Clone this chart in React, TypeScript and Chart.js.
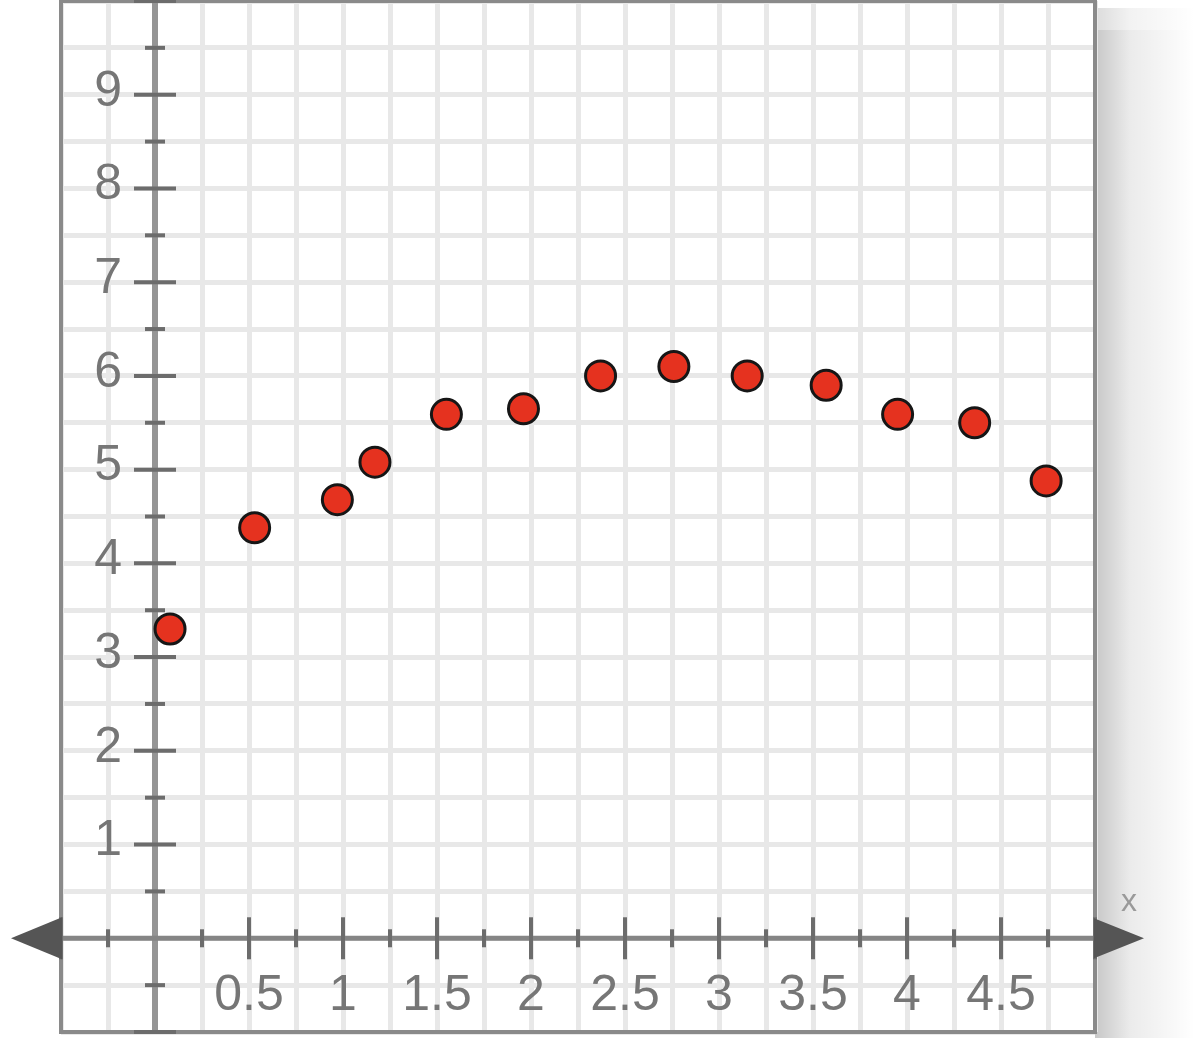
import React, { useEffect, useRef } from "react";
import { Chart, registerables } from "chart.js";

Chart.register(...registerables);

// Data
const xValues = [0.08, 0.53, 0.97, 1.17, 1.55, 1.96, 2.37, 2.76, 3.15, 3.57, 3.95, 4.36, 4.74];
const yValues = [3.3, 4.38, 4.68, 5.08, 5.59, 5.65, 6.0, 6.1, 6.0, 5.9, 5.59, 5.5, 4.88];

const xTickValues = [0.5, 1, 1.5, 2, 2.5, 3, 3.5, 4, 4.5];
const xTickLabels = ["0.5", "1", "1.5", "2", "2.5", "3", "3.5", "4", "4.5"];
const yTickValues = [1, 2, 3, 4, 5, 6, 7, 8, 9];
const yTickLabels = ["1", "2", "3", "4", "5", "6", "7", "8", "9"];

const X_MIN = -0.5;
const X_MAX = 5;
const Y_MIN = -1;
const Y_MAX = 10;

const FONT = '"Liberation Sans", Arial, sans-serif';
const GRID = "#e8e8e8";

const isMultiple = (v: number, step: number) => Math.abs(v / step - Math.round(v / step)) < 1e-6;

const decorPlugin = {
  id: "decor",
  beforeDraw(chart: any) {
    const { ctx, chartArea, height } = chart;
    ctx.save();
    ctx.fillStyle = "#ffffff";
    ctx.fillRect(0, 0, chart.width, height);
    // shadow to the right of the box
    const g = ctx.createLinearGradient(chartArea.right, 0, chartArea.right + 100, 0);
    g.addColorStop(0, "rgba(0,0,0,0.22)");
    g.addColorStop(0.35, "rgba(0,0,0,0.08)");
    g.addColorStop(1, "rgba(0,0,0,0)");
    ctx.fillStyle = g;
    ctx.fillRect(chartArea.right, 30, 110, height - 30);
    const gTop = ctx.createLinearGradient(chartArea.right, 0, chartArea.right + 100, 0);
    gTop.addColorStop(0, "rgba(0,0,0,0.14)");
    gTop.addColorStop(0.35, "rgba(0,0,0,0.05)");
    gTop.addColorStop(1, "rgba(0,0,0,0)");
    ctx.fillStyle = gTop;
    ctx.fillRect(chartArea.right, 8, 110, 22);
    ctx.restore();
  },
  beforeDatasetsDraw(chart: any) {
    const { ctx, chartArea } = chart;
    const xs = chart.scales.x;
    const ys = chart.scales.y;
    const x0 = xs.getPixelForValue(0);
    const y0 = ys.getPixelForValue(0);
    ctx.save();

    // box border
    ctx.strokeStyle = "#8a8a8a";
    ctx.lineWidth = 4;
    ctx.strokeRect(chartArea.left, chartArea.top, chartArea.right - chartArea.left, chartArea.bottom - chartArea.top);

    // axes lines
    ctx.strokeStyle = "#959595";
    ctx.lineWidth = 6;
    ctx.beginPath();
    ctx.moveTo(x0, chartArea.top);
    ctx.lineTo(x0, chartArea.bottom);
    ctx.stroke();
    ctx.strokeStyle = "#858585";
    ctx.lineWidth = 5;
    ctx.beginPath();
    ctx.moveTo(chartArea.left, y0);
    ctx.lineTo(chartArea.right, y0);
    ctx.stroke();

    // tick marks
    ctx.strokeStyle = "#6c6c6c";
    ctx.lineWidth = 4;
    for (let v = Y_MIN; v <= Y_MAX + 1e-9; v += 0.5) {
      if (Math.abs(v) < 1e-9) continue;
      const py = ys.getPixelForValue(v);
      const half = isMultiple(v, 1) ? 21 : 10;
      ctx.beginPath();
      ctx.moveTo(x0 - half, py);
      ctx.lineTo(x0 + half, py);
      ctx.stroke();
    }
    for (let v = X_MIN; v <= X_MAX + 1e-9; v += 0.25) {
      if (Math.abs(v) < 1e-9) continue;
      const px = xs.getPixelForValue(v);
      const half = isMultiple(v, 0.5) ? 21 : 9;
      ctx.beginPath();
      ctx.moveTo(px, y0 - half);
      ctx.lineTo(px, y0 + half);
      ctx.stroke();
    }

    // arrows
    ctx.fillStyle = "#555555";
    ctx.beginPath();
    ctx.moveTo(chartArea.left - 50, y0);
    ctx.lineTo(chartArea.left + 1, y0 - 21);
    ctx.lineTo(chartArea.left + 1, y0 + 21);
    ctx.closePath();
    ctx.fill();
    ctx.beginPath();
    ctx.moveTo(chartArea.right + 49, y0);
    ctx.lineTo(chartArea.right - 1, y0 - 20);
    ctx.lineTo(chartArea.right - 1, y0 + 20);
    ctx.closePath();
    ctx.fill();

    // labels
    ctx.fillStyle = "#767676";
    ctx.font = `50px ${FONT}`;
    ctx.textAlign = "right";
    ctx.textBaseline = "middle";
    yTickValues.forEach((v, i) => {
      ctx.fillText(yTickLabels[i], x0 - 33, ys.getPixelForValue(v) - 3);
    });
    ctx.textAlign = "center";
    xTickValues.forEach((v, i) => {
      ctx.fillText(xTickLabels[i], xs.getPixelForValue(v), y0 + 58);
    });

    // axis name
    ctx.fillStyle = "#9a9a9a";
    ctx.font = `32px ${FONT}`;
    ctx.textAlign = "center";
    ctx.fillText("x", chartArea.right + 34, y0 - 36);

    ctx.restore();
  },
};

export default function App() {
  const canvasRef = useRef<HTMLCanvasElement | null>(null);

  useEffect(() => {
    if (!canvasRef.current) return;
    const chart = new Chart(canvasRef.current, {
      type: "scatter",
      data: {
        datasets: [
          {
            data: xValues.map((x, i) => ({ x, y: yValues[i] })),
            backgroundColor: "#e5321f",
            borderColor: "#161616",
            borderWidth: 3,
            pointRadius: 15,
            pointHoverRadius: 15,
            clip: false,
          },
        ],
      },
      options: {
        animation: false,
        responsive: false,
        maintainAspectRatio: false,
        layout: { autoPadding: false, padding: { left: 61, right: 105, top: 1, bottom: 6 } },
        plugins: { legend: { display: false }, tooltip: { enabled: false } },
        scales: {
          x: {
            type: "linear",
            min: X_MIN,
            max: X_MAX,
            ticks: { display: false, stepSize: 0.25, maxTicksLimit: 100 },
            grid: {
              color: (c: any) => (c.tick && isMultiple(c.tick.value, 0.25) ? GRID : "rgba(0,0,0,0)"),
              lineWidth: 5,
              drawTicks: false,
            },
            border: { display: false },
          },
          y: {
            type: "linear",
            min: Y_MIN,
            max: Y_MAX,
            ticks: { display: false, stepSize: 0.5, maxTicksLimit: 100 },
            grid: {
              color: (c: any) => (c.tick && isMultiple(c.tick.value, 0.5) ? GRID : "rgba(0,0,0,0)"),
              lineWidth: 5,
              drawTicks: false,
            },
            border: { display: false },
          },
        },
      },
      plugins: [decorPlugin],
    });
    return () => chart.destroy();
  }, []);

  return (
    <div style={{ position: "fixed", left: 0, top: 0, width: 1200, height: 1038, background: "#fff" }}>
      <canvas ref={canvasRef} width={1200} height={1038} style={{ display: "block", width: 1200, height: 1038 }} />
    </div>
  );
}
